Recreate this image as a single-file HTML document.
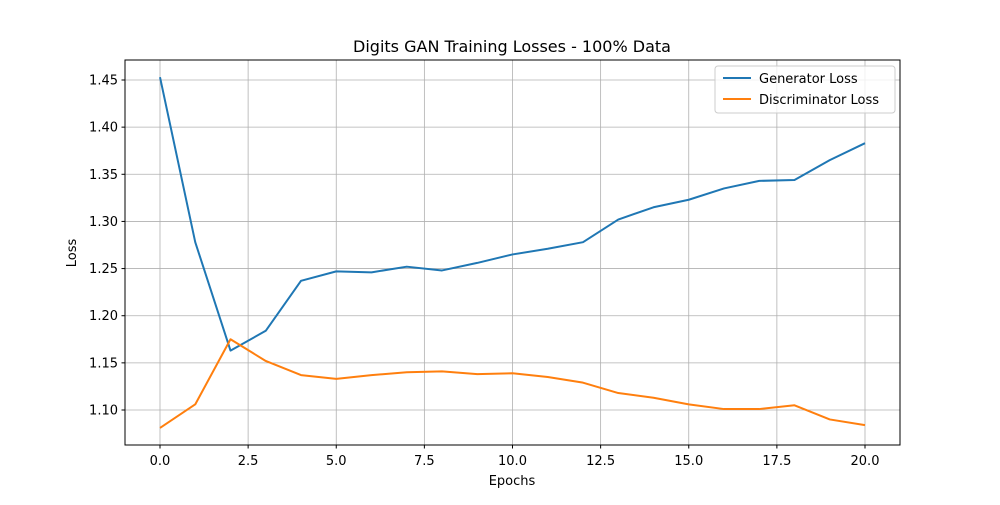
<!DOCTYPE html>
<html><head><meta charset="utf-8"><style>
body{margin:0;background:#fff;font-family:"Liberation Sans","DejaVu Sans",sans-serif}
</style></head><body>
<svg id="chart" width="1000" height="500" xmlns="http://www.w3.org/2000/svg" font-family="'DejaVu Sans','Liberation Sans',sans-serif">
<rect width="1000" height="500" fill="#fff"/>
<text x="512" y="52" text-anchor="middle" font-size="16">Digits GAN Training Losses - 100% Data</text>
<g id="grid"></g><g id="series"></g><g id="ticks"></g>
<rect x="125" y="60" width="775" height="385" fill="none" stroke="#000" stroke-width="1"/>
<text x="512" y="485" text-anchor="middle" font-size="13">Epochs</text>
<text transform="translate(76,253) rotate(-90)" text-anchor="middle" font-size="13">Loss</text>
<g>
<rect x="715" y="66" width="180" height="47" fill="#fff" fill-opacity="0.8" stroke="#ccc" rx="3"/>
<line x1="723" y1="78" x2="751" y2="78" stroke="#1f77b4" stroke-width="2"/>
<text x="759" y="83" font-size="13">Generator Loss</text>
<line x1="723" y1="99" x2="751" y2="99" stroke="#ff7f0e" stroke-width="2"/>
<text x="759" y="104" font-size="13">Discriminator Loss</text>
</g>
</svg>
<script>
const epochs=[0,1,2,3,4,5,6,7,8,9,10,11,12,13,14,15,16,17,18,19,20];
const generatorLoss=[1.453,1.278,1.163,1.184,1.237,1.247,1.246,1.252,1.248,1.256,1.265,1.271,1.278,1.302,1.315,1.323,1.335,1.343,1.344,1.365,1.383];
const discriminatorLoss=[1.081,1.106,1.175,1.152,1.137,1.133,1.137,1.140,1.141,1.138,1.139,1.135,1.129,1.118,1.113,1.106,1.101,1.101,1.105,1.090,1.084];
const xTicks=[0,2.5,5,7.5,10,12.5,15,17.5,20];
const yTicks=[1.10,1.15,1.20,1.25,1.30,1.35,1.40,1.45];
const NS="http://www.w3.org/2000/svg";
const X=v=>160+v*35.25;
const Y=v=>410-(v-1.10)*942.857;
function mk(t,a,p){const e=document.createElementNS(NS,t);for(const k in a)e.setAttribute(k,a[k]);p.appendChild(e);return e;}
const grid=document.getElementById('grid'),ticks=document.getElementById('ticks'),ser=document.getElementById('series');
xTicks.forEach(t=>{const x=X(t);
 const g=mk('line',{x1:x,x2:x,y1:60,y2:445,stroke:'#b0b0b0','stroke-width':0.8},grid);
 
 
 mk('line',{x1:x,x2:x,y1:445,y2:448.5,stroke:'#000'},ticks);
 const l=mk('text',{x:x,y:465,'text-anchor':'middle','font-size':13},ticks);l.textContent=t.toFixed(1);
 
 });
yTicks.forEach(t=>{const y=Y(t);
 const g=mk('line',{x1:125,x2:900,y1:y,y2:y,stroke:'#b0b0b0','stroke-width':0.8},grid);
 
 
 mk('line',{x1:121.5,x2:125,y1:y,y2:y,stroke:'#000'},ticks);
 const l=mk('text',{x:118,y:y+4.5,'text-anchor':'end','font-size':13},ticks);l.textContent=t.toFixed(2);
 
 });
function line(vals,c,n){const p=mk('polyline',{points:vals.map((v,i)=>X(epochs[i])+','+Y(v)).join(' '),fill:'none',stroke:c,'stroke-width':2,'stroke-linejoin':'round'},ser);
 
 }
line(generatorLoss,'#1f77b4','generator-loss-line');
line(discriminatorLoss,'#ff7f0e','discriminator-loss-line');
</script>
</body></html>
